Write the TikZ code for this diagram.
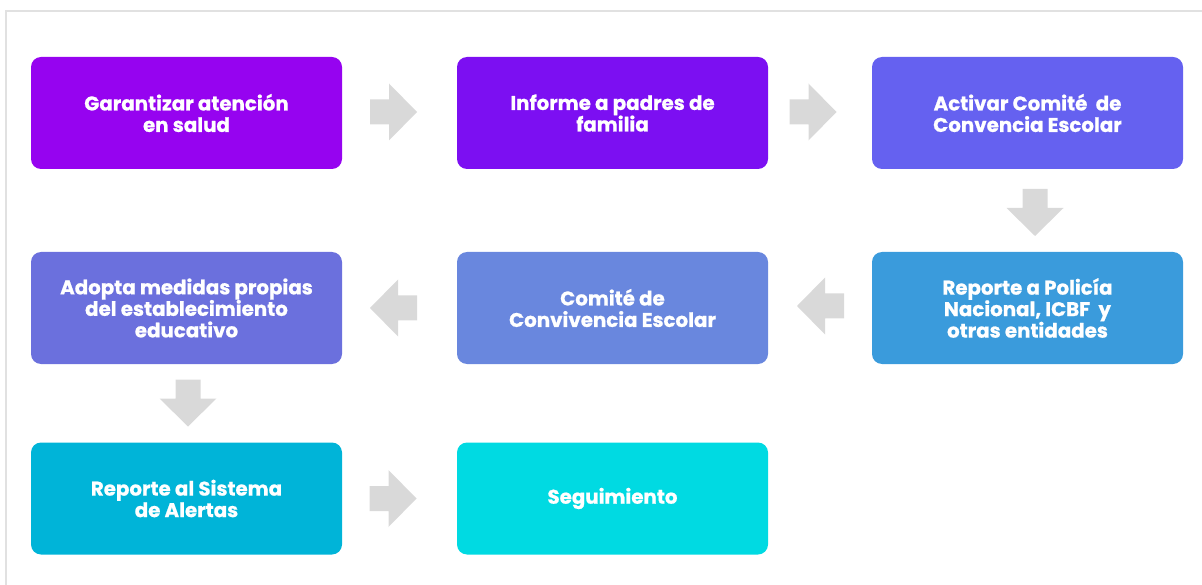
\documentclass[tikz,border=0pt]{standalone}
\usepackage{fontspec}
\setmainfont{Poppins}
\newfontfamily\boxfont{Poppins}[UprightFont=* Bold, FakeBold=0.8]
\definecolor{cA}{RGB}{150,3,240}
\definecolor{cB}{RGB}{124,15,242}
\definecolor{cC}{RGB}{101,97,240}
\definecolor{cD}{RGB}{58,155,220}
\definecolor{cE}{RGB}{105,135,222}
\definecolor{cF}{RGB}{107,112,221}
\definecolor{cG}{RGB}{0,180,216}
\definecolor{cH}{RGB}{0,218,226}
\definecolor{arrowgray}{RGB}{217,217,217}
\definecolor{framegray}{RGB}{225,225,225}
\tikzset{
  stepbox/.style={rounded corners=10pt, minimum width=311pt, minimum height=112pt,
    text=white, align=center, inner sep=0pt,
    font=\boxfont\fontsize{19.8}{21.5}\selectfont},
  pics/blockarrow/.style={code={
    \fill[arrowgray] (-23.5,-12.5) -- (-4.5,-12.5) -- (-4.5,-28.5) -- (23.5,0)
      -- (-4.5,28.5) -- (-4.5,12.5) -- (-23.5,12.5) -- cycle;}}
}
\begin{document}
\begin{tikzpicture}[x=1pt,y=-1pt]
\useasboundingbox (0,0) rectangle (1202,585);
\draw[framegray, line width=2pt] (6,585) -- (6,11) -- (1202,11);
% boxes
\node[stepbox, fill=cA] (b1) at (186.5,113) {Garantizar atención\\en salud};
\node[stepbox, fill=cB] (b2) at (612.5,113) {Informe a padres de\\familia};
\node[stepbox, fill=cC] (b3) at (1027.5,113) {Activar Comité\ \ de\\Convencia Escolar};
\node[stepbox, fill=cD] (b4) at (1027.5,308) {Reporte a Policía\\Nacional, ICBF\ \ y\\otras entidades};
\node[stepbox, fill=cE] (b5) at (612.5,308) {Comité de\\Convivencia Escolar};
\node[stepbox, fill=cF] (b6) at (186.5,308) {Adopta medidas propias\\del establecimiento\\educativo};
\node[stepbox, fill=cG] (b7) at (186.5,498.5) {Reporte al Sistema\\de Alertas};
\node[stepbox, fill=cH] (b8) at (612.5,498.5) {Seguimiento};
% block arrows
\pic at (393.5,112) {blockarrow};
\pic at (813,112) {blockarrow};
\pic[rotate=-90] at (1035,212.5) {blockarrow};
\pic[rotate=180] at (820.5,306) {blockarrow};
\pic[rotate=180] at (393.5,308) {blockarrow};
\pic[rotate=-90] at (188,403) {blockarrow};
\pic at (393,498.5) {blockarrow};
\end{tikzpicture}
\end{document}
